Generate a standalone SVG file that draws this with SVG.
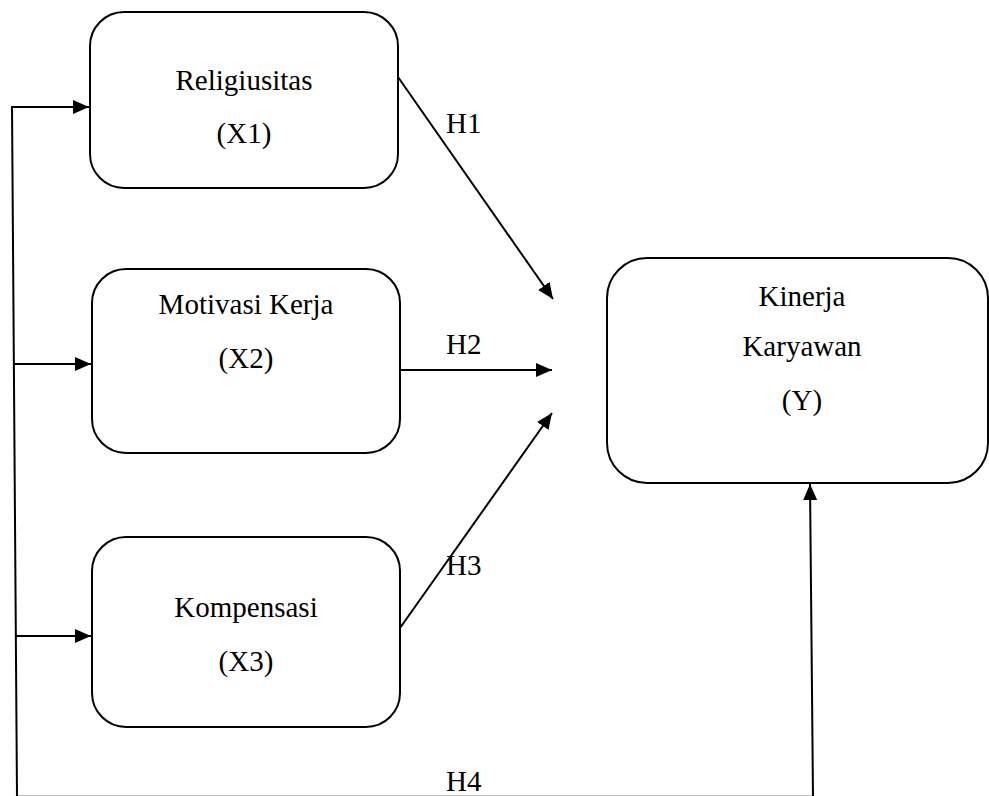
<svg xmlns="http://www.w3.org/2000/svg" width="989" height="796" viewBox="0 0 989 796">
<style>
.node rect{fill:#fff;stroke:#000;stroke-width:2}
text{font-family:"Liberation Serif","Times New Roman",serif;font-size:29px;fill:#000}
.c{text-anchor:middle}
.conn line{stroke:#000;stroke-width:2;fill:none}
</style>
<defs>
<marker id="ah" markerUnits="userSpaceOnUse" markerWidth="18" markerHeight="16" refX="16" refY="7" orient="auto">
<path d="M0,0 L16,7 L0,14 z" fill="#000"/>
</marker>
</defs>
<g id="x1" class="node">
<rect x="90" y="12" width="308" height="176" rx="34"/>
<text class="c" x="244" y="90">Religiusitas</text>
<text class="c" x="244" y="143">(X1)</text>
</g>
<g id="x2" class="node">
<rect x="92" y="269" width="308" height="184" rx="34"/>
<text class="c" x="246" y="314">Motivasi Kerja</text>
<text class="c" x="246" y="368">(X2)</text>
</g>
<g id="x3" class="node">
<rect x="92" y="537" width="308" height="190" rx="34"/>
<text class="c" x="246" y="617">Kompensasi</text>
<text class="c" x="246" y="671">(X3)</text>
</g>
<g id="y" class="node">
<rect x="607" y="258" width="381" height="225" rx="40"/>
<text class="c" x="802" y="306">Kinerja</text>
<text class="c" x="802" y="356">Karyawan</text>
<text class="c" x="802" y="410">(Y)</text>
</g>
<g id="connectors" class="conn">
<line x1="12" y1="106" x2="17" y2="796"/>
<line x1="11" y1="107" x2="89" y2="107" marker-end="url(#ah)"/>
<line x1="14" y1="364" x2="91" y2="364" marker-end="url(#ah)"/>
<line x1="16" y1="636" x2="91" y2="636" marker-end="url(#ah)"/>
<line x1="398" y1="77" x2="553" y2="299" marker-end="url(#ah)"/>
<line x1="400" y1="370" x2="552" y2="370" marker-end="url(#ah)"/>
<line x1="400" y1="628" x2="552" y2="413" marker-end="url(#ah)"/>
<line x1="17" y1="796.7" x2="814" y2="796.7"/>
<line x1="813" y1="796" x2="810" y2="484" marker-end="url(#ah)"/>
</g>
<g id="labels">
<text x="446" y="133">H1</text>
<text x="446" y="354">H2</text>
<text x="446" y="575">H3</text>
<text x="446" y="791">H4</text>
</g>
</svg>
